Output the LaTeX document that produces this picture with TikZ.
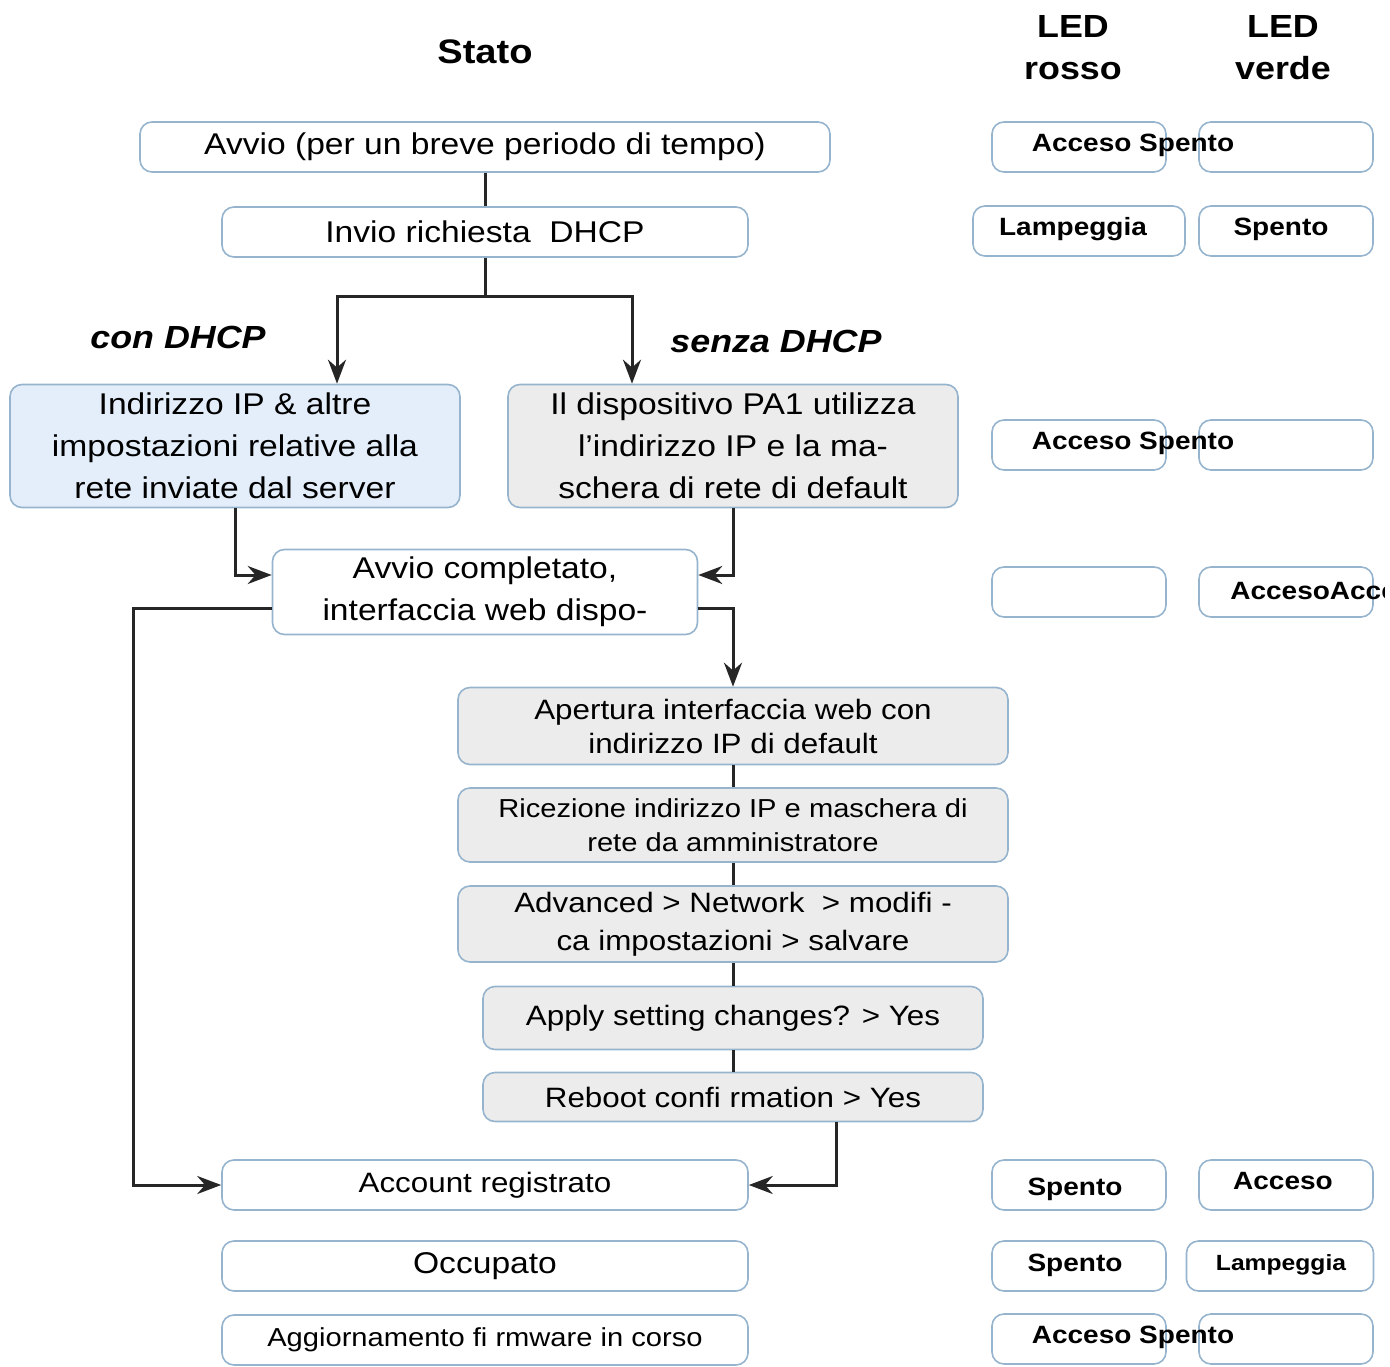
\documentclass[tikz,border=0pt]{standalone}
\usepackage{fontspec}
\setmainfont{Liberation Sans}[FakeStretch=1.12]
\usetikzlibrary{positioning,arrows.meta}
\definecolor{boxline}{RGB}{150,180,205}
\definecolor{bluefill}{RGB}{228,238,250}
\definecolor{grayfill}{RGB}{236,236,236}
\tikzset{every picture/.style={line width=2pt}}
\tikzset{
  box/.style={draw=boxline,rounded corners=12pt,line width=1.6pt,inner sep=0pt,align=center,font=\fontsize{30}{42}\selectfont},
  led/.style={draw=boxline,rounded corners=12pt,line width=1.6pt,minimum width=174pt,minimum height=50pt},
  ledtext/.style={font=\fontsize{25}{30}\selectfont\bfseries},
  flow/.style={draw=black!85,line width=3pt},
  arr/.style={flow,-{Stealth[length=24pt,width=18pt]}},
}
\begin{document}
\begin{tikzpicture}[x=1pt,y=1pt,yscale=-1]
\useasboundingbox (0,0) rectangle (1390,1367);

% headings
\node[font=\fontsize{34}{40}\selectfont\bfseries] (stato) at (485,52) {Stato};
\node[align=center,font=\fontsize{32}{42}\selectfont\bfseries] (ledr) at (1073,48) {LED\\rosso};
\node[align=center,font=\fontsize{32}{42}\selectfont\bfseries] (ledg) at (1283,48) {LED\\verde};

% state boxes
\node[box,minimum width=690pt,minimum height=50pt] (avvio) at (485,147) {Avvio (per un breve periodo di tempo)};
\node[box,minimum width=526pt,minimum height=50pt] (invio) at (485,232) {Invio richiesta\ \ DHCP};
\node[box,fill=bluefill,minimum width=450pt,minimum height=123pt] (ipserver) at (235,446) {Indirizzo IP \& altre\\impostazioni relative alla\\rete inviate dal server};
\node[box,fill=grayfill,minimum width=450pt,minimum height=123pt] (ipdefault) at (733,446) {Il dispositivo PA1 utilizza\\l'indirizzo IP e la ma-\\schera di rete di default};
\node[box,fill=white,minimum width=425pt,minimum height=85pt] (completo) at (485,592) {Avvio completato,\\interfaccia web dispo-};
\node[box,fill=grayfill,minimum width=550pt,minimum height=77pt,font=\fontsize{28}{34}\selectfont] (apertura) at (733,726) {Apertura interfaccia web con\\indirizzo IP di default};
\node[box,fill=grayfill,minimum width=550pt,minimum height=74pt,font=\fontsize{26}{34}\selectfont] (ricezione) at (733,825) {Ricezione indirizzo IP e maschera di\\rete da amministratore};
\node[box,fill=grayfill,minimum width=550pt,minimum height=76pt,font=\fontsize{28}{38}\selectfont] (advanced) at (733,924) {Advanced > Network\ \ > modifi -\\ca impostazioni > salvare};
\node[box,fill=grayfill,minimum width=500pt,minimum height=63pt,font=\fontsize{28}{34}\selectfont] (apply) at (733,1018) {Apply setting changes? > Yes};
\node[box,fill=grayfill,minimum width=500pt,minimum height=49pt,font=\fontsize{28}{34}\selectfont] (reboot) at (733,1097) {Reboot confi rmation > Yes};
\node[box,minimum width=526pt,minimum height=50pt,font=\fontsize{28}{34}\selectfont] (account) at (485,1185) {Account registrato};
\node[box,minimum width=526pt,minimum height=50pt] (occupato) at (485,1266) {Occupato};
\node[box,minimum width=526pt,minimum height=50pt,font=\fontsize{26}{32}\selectfont] (firmware) at (485,1340) {Aggiornamento fi rmware in corso};

% branch labels
\node[font=\fontsize{32}{38}\selectfont\bfseries\itshape] (con) at (178,337) {con DHCP};
\node[font=\fontsize{32}{38}\selectfont\bfseries\itshape] (senza) at (776,341) {senza DHCP};

% connectors
\coordinate (split) at ([yshift=39pt]invio.south);
\draw[flow] (avvio) -- (invio);
\draw[flow] (invio) -- (split);
\draw[arr] (split) -| (ipserver.north -| 337,0);
\draw[arr] (split) -| (ipdefault.north -| 632,0);
\draw[arr] (ipserver.south) |- (completo.west |- 0,575);
\draw[arr] (ipdefault.south) |- (completo.east |- 0,575);
\draw[arr] (completo.east |- 0,608) -| (apertura.north);
\draw[flow] (apertura) -- (ricezione);
\draw[flow] (ricezione) -- (advanced);
\draw[flow] (advanced) -- (apply);
\draw[flow] (apply) -- (reboot);
\draw[arr] (completo.west |- 0,608) -- (133,608) |- (account.west);
\draw[arr] (reboot.south -| 836,0) |- (account.east);

% LED boxes
\foreach \y in {147,445,592,1185,1339}{
  \node[led] at (1079,\y) {};
  \node[led] at (1286,\y) {};
}
\node[led] at (1079,1266) {};
\node[led,minimum width=187pt] at (1280,1266) {};
\node[led,minimum width=212pt] (lampr) at (1079,231) {};
\node[led] (spg) at (1286,231) {};
\node[ledtext] at (1133,145) {Acceso Spento};
\node[ledtext] at (1073,229) {Lampeggia};
\node[ledtext] at (1281,229) {Spento};
\node[ledtext] at (1133,443) {Acceso Spento};
\begin{scope}
  \clip (1200,560) rectangle (1384,620);
  \node[ledtext,anchor=west] at (1226,591) {AccesoAcceso};
\end{scope}
\node[ledtext] at (1075,1189) {Spento};
\node[ledtext] at (1283,1181) {Acceso};
\node[ledtext] at (1075,1265) {Spento};
\node[ledtext,font=\fontsize{22}{26}\selectfont\bfseries] at (1281,1265) {Lampeggia};
\node[ledtext] at (1133,1337) {Acceso Spento};
\end{tikzpicture}
\end{document}
